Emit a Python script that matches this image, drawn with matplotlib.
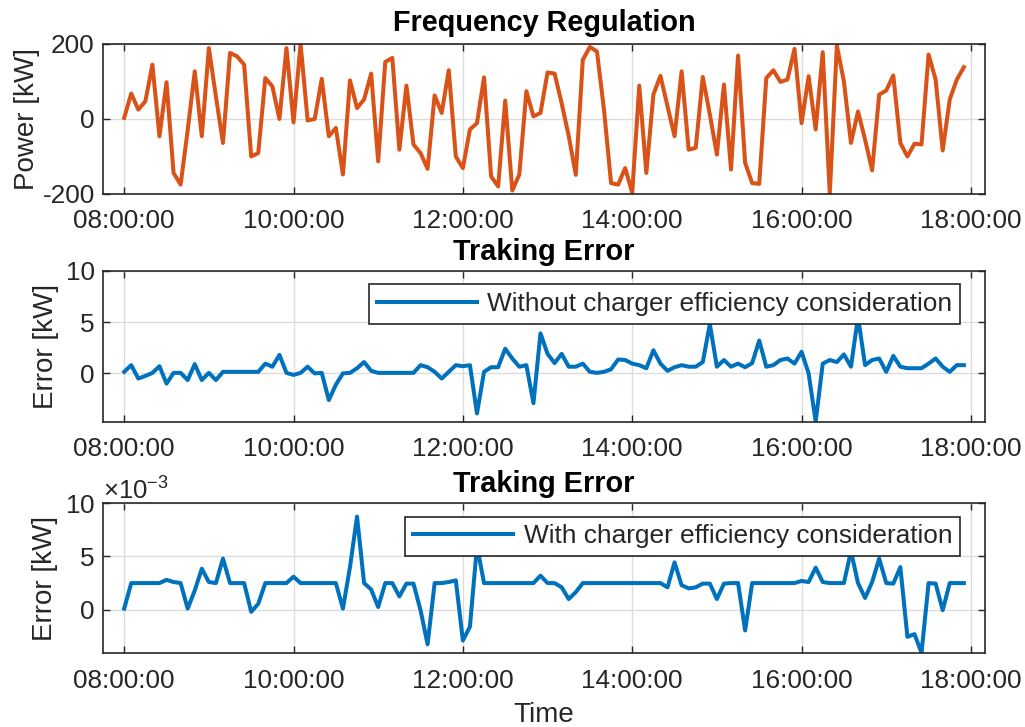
import matplotlib
matplotlib.use("Agg")
import matplotlib.pyplot as plt
import matplotlib.dates as mdates
import numpy as np
import pandas as pd

plt.rcParams['font.family'] = ['Liberation Sans', 'DejaVu Sans']
plt.rcParams['mathtext.fontset'] = 'custom'
plt.rcParams['mathtext.rm'] = 'Liberation Sans'
plt.rcParams['axes.unicode_minus'] = False

# 5-minute samples from 08:00 to 17:55
time = pd.date_range('2021-01-01 08:00', periods=120, freq='5min')

# regulation signal [kW]
power = [3, 68, 25, 47, 145, -46, 98, -144, -175, -30,
         127, -46, 189, 60, -64, 176, 167, 145, -100, -91,
         109, 87, 0, 189, -9, 200, -4, 0, 107, -46,
         -24, -148, 103, 29, 52, 121, -113, 152, 163, -82,
         89, -68, -91, -133, 63, 16, 130, -100, -131, -28,
         -11, 111, -153, -180, 49, -191, -148, 74, 7, 16,
         124, 121, 42, -45, -149, 158, 192, 180, 25, -171,
         -175, -131, -197, 89, -144, 65, 115, 34, -46, 127,
         -82, -77, 112, 12, -95, 92, -135, 169, -117, -171,
         -173, 109, 130, 99, 105, 187, -11, 114, -28, 178,
         -200, 196, 100, -64, 20, -55, -137, 65, 76, 116,
         -64, -100, -66, -68, 172, 105, -84, 52, 105, 138]

# tracking error without charger efficiency [kW]
err_without = [0.15, 0.8, -0.5, -0.25, 0.05, 0.7, -1.0, 0.05, 0.05, -0.65,
               0.9, -0.65, 0.05, -0.65, 0.15, 0.15, 0.15, 0.15, 0.15, 0.15,
               0.95, 0.65, 1.8, 0.05, -0.15, 0.05, 0.65, 0.0, 0.05, -2.6,
               -1.1, 0.0, 0.05, 0.5, 1.1, 0.25, 0.05, 0.05, 0.05, 0.05,
               0.05, 0.05, 0.8, 0.6, 0.15, -0.5, 0.15, 0.8, 0.7, 0.8,
               -3.9, 0.15, 0.6, 0.6, 2.4, 1.45, 0.65, 0.8, -2.9, 3.9,
               1.9, 1.0, 1.9, 0.65, 0.65, 0.95, 0.15, 0.05, 0.15, 0.4,
               1.35, 1.3, 0.95, 0.8, 0.5, 2.25, 0.95, 0.25, 0.6, 0.8,
               0.65, 0.65, 1.1, 4.8, 0.65, 1.3, 0.65, 0.95, 0.6, 1.0,
               3.2, 0.65, 0.8, 1.3, 1.45, 0.95, 2.1, 0.0, -4.7, 0.95,
               1.3, 1.1, 1.85, 0.65, 5.5, 0.8, 1.3, 1.45, 0.15, 1.7,
               0.65, 0.5, 0.5, 0.5, 0.95, 1.45, 0.65, 0.15, 0.8, 0.8]

# tracking error with charger efficiency [1e-3 kW]
err_with = [0.1, 2.5, 2.5, 2.5, 2.5, 2.5, 2.8, 2.6, 2.5, 0.1,
            1.8, 3.85, 2.6, 2.5, 4.8, 2.5, 2.5, 2.5, -0.2, 0.55,
            2.5, 2.5, 2.5, 2.5, 3.1, 2.5, 2.5, 2.5, 2.5, 2.5,
            2.5, 0.1, 4.0, 8.75, 2.5, 1.9, 0.25, 2.5, 2.5, 1.25,
            2.45, 2.45, -0.05, -3.25, 2.5, 2.5, 2.6, 2.75, -2.9, -1.6,
            6.0, 2.5, 2.5, 2.5, 2.5, 2.5, 2.5, 2.5, 2.5, 3.2,
            2.5, 2.5, 2.1, 1.0, 1.65, 2.5, 2.5, 2.5, 2.5, 2.5,
            2.5, 2.5, 2.5, 2.5, 2.5, 2.5, 2.5, 2.1, 4.45, 2.3,
            2.0, 2.1, 2.45, 2.45, 1.0, 2.45, 2.5, 2.5, -1.95, 2.5,
            2.5, 2.5, 2.5, 2.5, 2.5, 2.5, 2.7, 2.6, 3.95, 2.6,
            2.5, 2.5, 2.5, 5.5, 2.5, 1.1, 2.6, 4.8, 2.5, 2.45,
            4.0, -2.55, -2.3, -4.05, 2.5, 2.45, -0.05, 2.5, 2.5, 2.5]
err_with = np.array(err_with) * 1e-3

orange = '#D95319'
blue = '#0072BD'
dark = '#262626'

fig = plt.figure(figsize=(10.25, 7.27), dpi=100)
ax1 = fig.add_axes([0.1005, 0.7332, 0.8605, 0.2063])
ax2 = fig.add_axes([0.1005, 0.4200, 0.8605, 0.2077])
ax3 = fig.add_axes([0.1005, 0.1014, 0.8605, 0.2063])

ax1.plot(time, power, color=orange, lw=2.9)
ax2.plot(time, err_without, color=blue, lw=2.9,
         label='Without charger efficiency consideration')
ax3.plot(time, err_with, color=blue, lw=2.9,
         label='With charger efficiency consideration')

ax1.set_ylim(-200, 200)
ax1.set_yticks([-200, 0, 200])
ax2.set_ylim(-4.7, 10)
ax2.set_yticks([0, 5, 10])
ax3.set_ylim(-4.1e-3, 10e-3)
ax3.set_yticks([0, 5e-3, 10e-3])
ax3.ticklabel_format(axis='y', style='sci', scilimits=(-3, -3), useMathText=True)
ax3.yaxis.get_offset_text().set_fontsize(18.5)
ax3.yaxis.get_offset_text().set_color(dark)

ax1.set_title('Frequency Regulation', fontsize=20.8, fontweight='bold', pad=9)
ax2.set_title('Traking Error', fontsize=20.8, fontweight='bold', pad=8)
ax3.set_title('Traking Error', fontsize=20.8, fontweight='bold', pad=8)

ax1.set_ylabel('Power [kW]', fontsize=20, color=dark, labelpad=2)
ax2.set_ylabel('Error [kW]', fontsize=20, color=dark, labelpad=5)
ax3.set_ylabel('Error [kW]', fontsize=20, color=dark, labelpad=5)
ax3.set_xlabel('Time', fontsize=20, color=dark, labelpad=7)

t0 = pd.Timestamp('2021-01-01 07:45')
t1 = pd.Timestamp('2021-01-01 18:10')
for ax in (ax1, ax2, ax3):
    ax.set_xlim(t0, t1)
    ax.xaxis.set_major_locator(mdates.HourLocator(byhour=range(8, 19, 2)))
    ax.xaxis.set_major_formatter(mdates.DateFormatter('%H:%M:%S'))
    ax.grid(True, color='#dcdcdc', lw=1.0)
    ax.set_axisbelow(True)
    ax.tick_params(direction='in', top=True, right=True, length=5, width=1,
                   labelsize=18.8, colors=dark)
    ax.tick_params(axis='x', pad=11)
    ax.tick_params(axis='y', pad=6)
    for s in ax.spines.values():
        s.set_color(dark)
        s.set_linewidth(1.2)

for ax, top_px in ((ax2, 13.6), (ax3, 13.4)):
    leg = ax.legend(loc='upper right', bbox_to_anchor=(0.9717, 1 - top_px / 151),
                    borderaxespad=0, fontsize=18.9, handlelength=3.8,
                    handletextpad=0.4, borderpad=0.3, fancybox=False,
                    framealpha=1)
    leg.get_frame().set_edgecolor(dark)
    leg.get_frame().set_linewidth(1.2)
    for t in leg.get_texts():
        t.set_color(dark)

fig.savefig('out.png', dpi=100)
